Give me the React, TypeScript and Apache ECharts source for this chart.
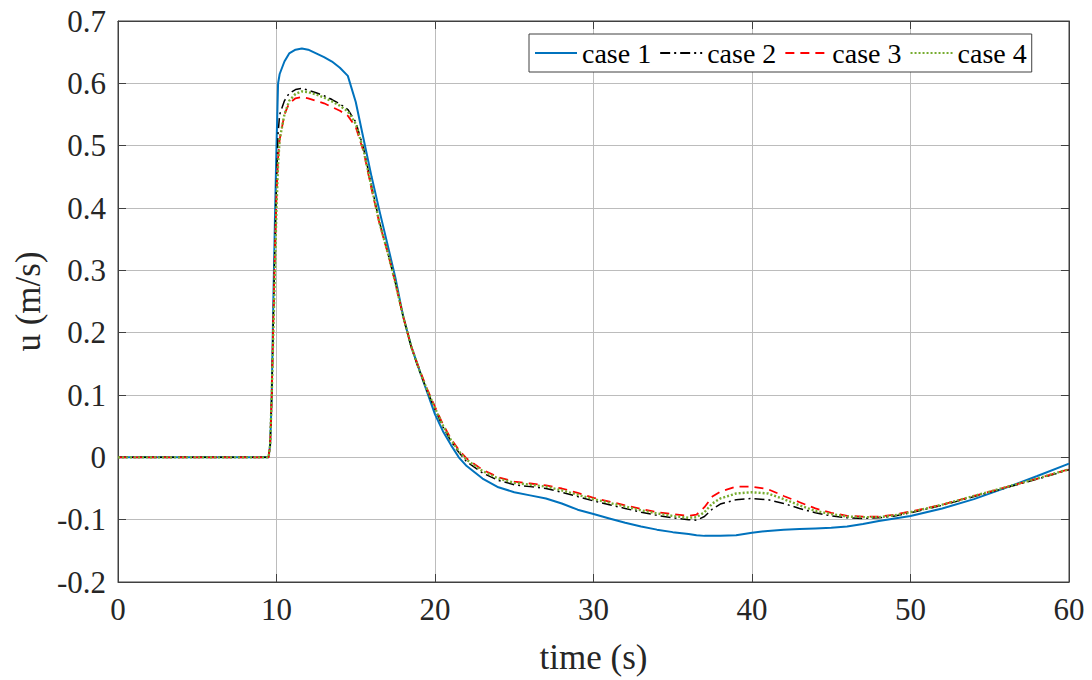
import React, { useEffect, useRef } from "react";
import * as echarts from "echarts";

const timeS = [
  0, 9.5, 9.6, 9.7, 9.8, 9.9, 10.0, 10.1, 10.2, 10.5, 10.8, 11.2, 11.6, 12.0, 12.5, 13.0, 13.5, 14.0,
  14.5, 15.0, 15.5, 16.0, 16.5, 17.0, 17.5, 18.0, 18.5, 19.0, 19.5, 20.0, 20.5, 21.0, 21.5, 22, 23, 24,
  25, 26, 27, 28, 29, 30, 31, 32, 33, 34, 35, 36, 36.5, 37, 37.5, 38, 39, 40, 41, 42, 43, 44, 45, 46,
  47, 48, 49, 50, 52, 54, 56, 58, 60,
];

const case1 = [
  0, 0, 0.02, 0.1, 0.25, 0.38, 0.5, 0.6, 0.615, 0.635, 0.648, 0.654, 0.656, 0.654, 0.648, 0.642, 0.635, 0.625,
  0.612, 0.57, 0.51, 0.45, 0.395, 0.342, 0.288, 0.225, 0.178, 0.141, 0.105, 0.069, 0.042, 0.02, 0.0, -0.014, -0.034, -0.048,
  -0.056, -0.061, -0.066, -0.074, -0.084, -0.091, -0.098, -0.105, -0.111, -0.116, -0.12, -0.123, -0.125, -0.126, -0.126, -0.126, -0.125, -0.121, -0.118, -0.116, -0.115, -0.114, -0.113, -0.111,
  -0.107, -0.102, -0.098, -0.094, -0.082, -0.067, -0.049, -0.03, -0.01,
];

const case2 = [
  0, 0, 0.02, 0.1, 0.22, 0.34, 0.44, 0.52, 0.55, 0.572, 0.584, 0.59, 0.592, 0.589, 0.585, 0.58, 0.574, 0.567,
  0.558, 0.538, 0.495, 0.435, 0.377, 0.33, 0.28, 0.225, 0.177, 0.14, 0.107, 0.077, 0.049, 0.026, 0.008, -0.007, -0.025, -0.037,
  -0.044, -0.047, -0.05, -0.056, -0.063, -0.07, -0.076, -0.082, -0.088, -0.093, -0.097, -0.1, -0.101, -0.095, -0.083, -0.075, -0.068, -0.066, -0.068, -0.074, -0.082, -0.089, -0.094, -0.097,
  -0.098, -0.097, -0.094, -0.089, -0.077, -0.063, -0.049, -0.035, -0.02,
];

const case3 = [
  0, 0, 0.02, 0.1, 0.22, 0.33, 0.42, 0.48, 0.51, 0.55, 0.568, 0.576, 0.578, 0.576, 0.572, 0.568, 0.562, 0.556,
  0.548, 0.53, 0.49, 0.43, 0.375, 0.33, 0.28, 0.225, 0.178, 0.142, 0.11, 0.081, 0.053, 0.03, 0.012, -0.002, -0.02, -0.032,
  -0.039, -0.042, -0.045, -0.05, -0.057, -0.065, -0.071, -0.077, -0.083, -0.088, -0.091, -0.094, -0.092, -0.08, -0.063, -0.055, -0.047, -0.047, -0.051, -0.062, -0.072, -0.082, -0.089, -0.094,
  -0.095, -0.095, -0.092, -0.087, -0.076, -0.062, -0.048, -0.034, -0.019,
];

const case4 = [
  0, 0, 0.02, 0.1, 0.2, 0.3, 0.4, 0.47, 0.51, 0.55, 0.572, 0.583, 0.587, 0.586, 0.582, 0.577, 0.571, 0.564,
  0.555, 0.535, 0.492, 0.433, 0.376, 0.33, 0.28, 0.225, 0.178, 0.141, 0.108, 0.079, 0.051, 0.028, 0.01, -0.004, -0.022, -0.034,
  -0.041, -0.044, -0.047, -0.053, -0.06, -0.067, -0.073, -0.079, -0.085, -0.09, -0.094, -0.097, -0.096, -0.088, -0.074, -0.066, -0.058, -0.056, -0.058, -0.067, -0.077, -0.086, -0.091, -0.095,
  -0.096, -0.096, -0.093, -0.088, -0.076, -0.062, -0.048, -0.034, -0.019,
];

const seriesNames = ["case 1", "case 2", "case 3", "case 4"];
const xTicks = [0, 10, 20, 30, 40, 50, 60];
const yTickMin = -0.2;
const yTickMax = 0.7;

const FONT = "'Liberation Serif', 'Times New Roman', serif";
const AXIS_COLOR = "#262626";
const GRID_COLOR = "#bcbcbc";

function pairs(vals: number[]) {
  return timeS.map((t, i) => [t, vals[i]]);
}

export default function App() {
  const ref = useRef<HTMLDivElement>(null);
  useEffect(() => {
    document.body.style.margin = "0";
    const chart = echarts.init(ref.current!, undefined, { renderer: "svg" });
    const styles = [
      { color: "#0072BD", width: 2, type: "solid" as any },
      { color: "#000000", width: 1.5, type: [10, 4, 2, 4] as any },
      { color: "#FF0000", width: 1.8, type: [9, 6] as any },
      { color: "#77AC30", width: 2.4, type: [2, 2] as any },
    ];
    const allVals = [case1, case2, case3, case4];
    chart.setOption({
      animation: false,
      backgroundColor: "#ffffff",
      textStyle: { fontFamily: FONT },
      grid: {
        left: 118,
        top: 21,
        width: 951,
        height: 561,
        containLabel: false,
        show: true,
        borderColor: "#404040",
        borderWidth: 1,
        backgroundColor: "transparent",
      },
      legend: {
        data: seriesNames,
        left: 529,
        top: 34,
        itemWidth: 42,
        itemHeight: 14,
        itemGap: 8,
        padding: [5, 5],
        borderColor: "#404040",
        borderWidth: 1,
        backgroundColor: "#ffffff",
        itemStyle: { opacity: 0 },
        textStyle: { fontFamily: FONT, fontSize: 28, color: "#000" },
      },
      xAxis: [
        {
          type: "value",
          min: xTicks[0],
          max: xTicks[xTicks.length - 1],
          interval: 10,
          name: "time (s)",
          nameLocation: "middle",
          nameGap: 58,
          nameTextStyle: { fontFamily: FONT, fontSize: 35, color: AXIS_COLOR },
          axisLine: { show: true, onZero: false, lineStyle: { color: "#404040", width: 1 } },
          axisTick: { show: true, inside: true, length: 8, lineStyle: { color: "#404040" } },
          axisLabel: { fontFamily: FONT, fontSize: 31, color: AXIS_COLOR, margin: 12 },
          splitLine: { show: true, lineStyle: { color: GRID_COLOR, width: 1 } },
        },
        {
          type: "value",
          position: "top",
          min: xTicks[0],
          max: xTicks[xTicks.length - 1],
          interval: 10,
          axisLine: { show: true, onZero: false, lineStyle: { color: "#404040", width: 1 } },
          axisTick: { show: true, inside: true, length: 8, lineStyle: { color: "#404040" } },
          axisLabel: { show: false },
          splitLine: { show: false },
        },
      ],
      yAxis: [
        {
          type: "value",
          min: yTickMin,
          max: yTickMax,
          interval: 0.1,
          name: "u (m/s)",
          nameLocation: "middle",
          nameGap: 68,
          nameTextStyle: { fontFamily: FONT, fontSize: 35, color: AXIS_COLOR },
          axisLine: { show: true, onZero: false, lineStyle: { color: "#404040", width: 1 } },
          axisTick: { show: true, inside: true, length: 8, lineStyle: { color: "#404040" } },
          axisLabel: {
            fontFamily: FONT,
            fontSize: 31,
            color: AXIS_COLOR,
            margin: 12,
            formatter: (v: number) => String(Math.round(v * 10) / 10),
          },
          splitLine: { show: true, lineStyle: { color: GRID_COLOR, width: 1 } },
        },
        {
          type: "value",
          position: "right",
          min: yTickMin,
          max: yTickMax,
          interval: 0.1,
          axisLine: { show: true, onZero: false, lineStyle: { color: "#404040", width: 1 } },
          axisTick: { show: true, inside: true, length: 8, lineStyle: { color: "#404040" } },
          axisLabel: { show: false },
          splitLine: { show: false },
        },
      ],
      series: seriesNames.map((name, i) => ({
        name,
        type: "line",
        xAxisIndex: 0,
        yAxisIndex: 0,
        data: pairs(allVals[i]),
        showSymbol: false,
        symbol: "none",
        smooth: false,
        color: styles[i].color,
        lineStyle: styles[i],
        z: 2 + i,
      })),
    });
    return () => chart.dispose();
  }, []);
  return <div ref={ref} style={{ width: 1092, height: 680 }} />;
}
